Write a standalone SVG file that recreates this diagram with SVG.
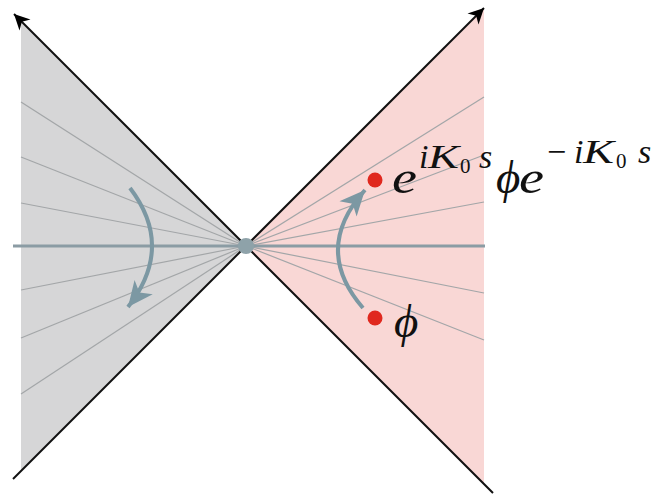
<svg xmlns="http://www.w3.org/2000/svg" width="666" height="494" viewBox="0 0 666 494">
  <defs>
    <marker id="blk" markerUnits="userSpaceOnUse" markerWidth="20" markerHeight="20" viewBox="-16 -8 18 16" refX="0" refY="0" orient="auto-start-reverse">
      <path d="M0,0 L-14,-7 L-10,0 L-14,7 Z" fill="#000"/>
    </marker>
    <marker id="bluehead" markerUnits="userSpaceOnUse" markerWidth="30" markerHeight="30" viewBox="-24 -12 26 24" refX="0" refY="0" orient="auto">
      <path d="M0,0 L-22,-10 L-16,0 L-22,10 Z" fill="#7c98a3"/>
    </marker>
    <style>
      .ray { stroke: #a3a6a8; stroke-width: 1.2; fill: none; }
      .axis { stroke: #8b9ca4; stroke-width: 3; }
      .bline { stroke: #111; stroke-width: 2; fill: none; }
      .curve { stroke: #7c98a3; stroke-width: 4; fill: none; }
      .dot { fill: #e0281e; }
    </style>
  </defs>

  <g id="left-region">
    <polygon points="21,21 246,246 21,471" fill="#d6d6d7"/>
    <line class="ray" x1="246" y1="246" x2="21" y2="102"/>
    <line class="ray" x1="246" y1="246" x2="21" y2="157"/>
    <line class="ray" x1="246" y1="246" x2="21" y2="203"/>
    <line class="ray" x1="246" y1="246" x2="21" y2="290"/>
    <line class="ray" x1="246" y1="246" x2="21" y2="338"/>
    <line class="ray" x1="246" y1="246" x2="21" y2="394"/>
  </g>

  <g id="right-region">
    <polygon points="484,8 246,246 484,484" fill="#f9d7d5"/>
    <line class="ray" x1="246" y1="246" x2="484" y2="97"/>
    <line class="ray" x1="246" y1="246" x2="484" y2="155"/>
    <line class="ray" x1="246" y1="246" x2="484" y2="202"/>
    <line class="ray" x1="246" y1="246" x2="484" y2="293"/>
    <line class="ray" x1="246" y1="246" x2="484" y2="340"/>
  </g>

  <g id="connectors">
    <line class="axis" x1="13" y1="246" x2="485" y2="246"/>
    <line class="bline" x1="14" y1="14" x2="493" y2="493" marker-start="url(#blk)"/>
    <line class="bline" x1="13" y1="479" x2="484" y2="8" marker-end="url(#blk)"/>
    <path class="curve" d="M130,188 Q175,247 128,307" marker-end="url(#bluehead)"/>
    <path class="curve" d="M363,308 Q312,249 365,190" marker-end="url(#bluehead)"/>
  </g>

  <g id="origin">
    <circle cx="246" cy="246" r="8" fill="#8ea2a9"/>
  </g>

  <g id="point-top">
    <circle class="dot" cx="375" cy="180" r="7.5"/>
    <text font-family="'Liberation Serif', serif" font-style="italic" fill="#111" font-size="47">
      <tspan x="392" y="193" textLength="25" lengthAdjust="spacingAndGlyphs">e</tspan>
      <tspan x="419" y="168" font-size="34">i</tspan>
      <tspan x="428" y="168" font-size="34" textLength="31" lengthAdjust="spacingAndGlyphs">K</tspan>
      <tspan font-style="normal" x="460" y="173" font-size="21">0</tspan>
      <tspan x="479" y="168" font-size="34">s</tspan>
      <tspan x="496" y="193">ϕ</tspan>
      <tspan x="519" y="193" textLength="25" lengthAdjust="spacingAndGlyphs">e</tspan>
      <tspan font-style="normal" x="547" y="163" font-size="34">−</tspan>
      <tspan x="574" y="163" font-size="34">i</tspan>
      <tspan x="583" y="163" font-size="34" textLength="31" lengthAdjust="spacingAndGlyphs">K</tspan>
      <tspan font-style="normal" x="616" y="168" font-size="21">0</tspan>
      <tspan x="638" y="163" font-size="34">s</tspan>
    </text>
  </g>

  <g id="point-bottom">
    <circle class="dot" cx="375" cy="318" r="7.5"/>
    <text font-family="'Liberation Serif', serif" font-style="italic" fill="#111" font-size="47" x="394" y="337">ϕ</text>
  </g>
</svg>
